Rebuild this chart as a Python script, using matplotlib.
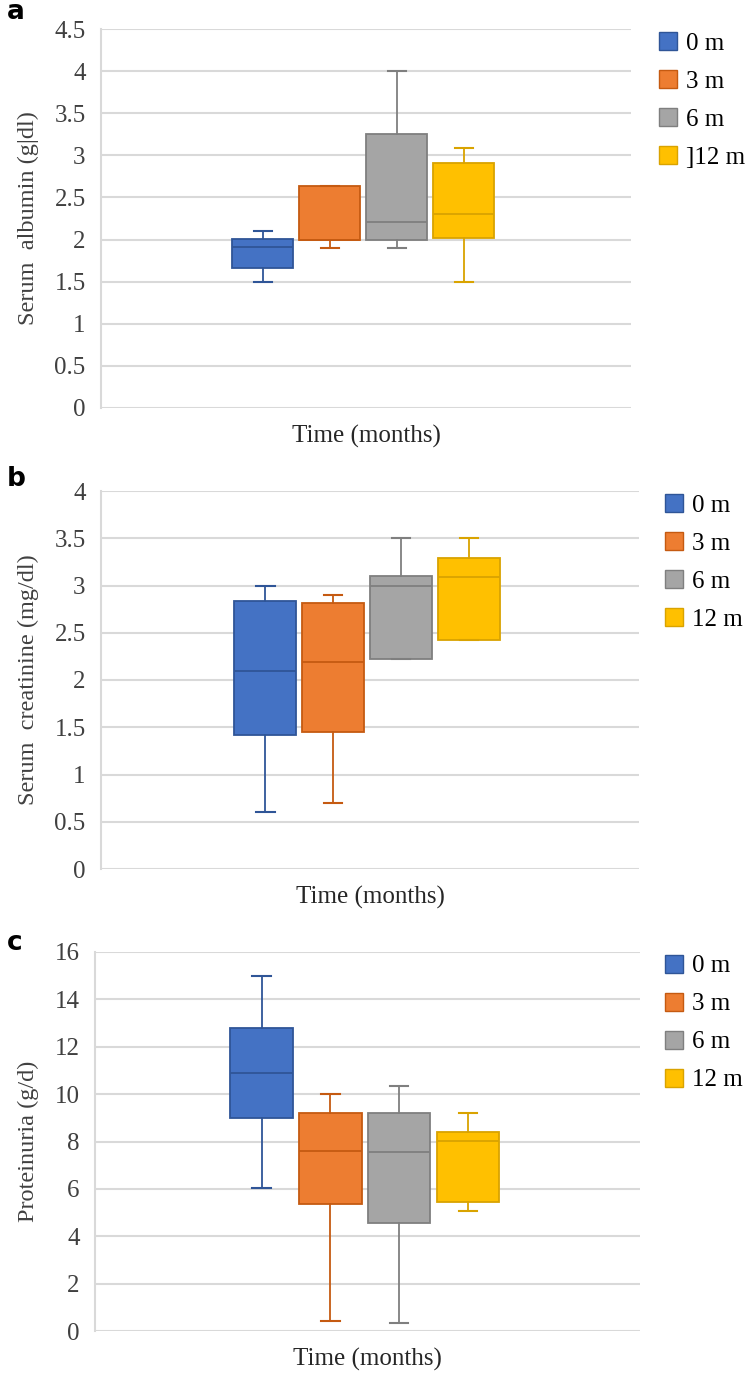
import matplotlib
matplotlib.use("Agg")
import matplotlib.pyplot as plt
from matplotlib.patches import Patch

# groups / legend labels
groups = ["0 m", "3 m", "6 m", "12 m"]
legend_a = ["0 m", "3 m", "6 m", "]12 m"]

# box statistics: (whislo, q1, med, q3, whishi)
alb_lo = [1.5, 1.9, 1.9, 1.5]
alb_q1 = [1.66, 2.0, 2.0, 2.02]
alb_med = [1.91, 2.0, 2.21, 2.30]
alb_q3 = [2.01, 2.64, 3.25, 2.91]
alb_hi = [2.10, 2.64, 4.0, 3.09]

cre_lo = [0.60, 0.70, 2.22, 2.42]
cre_q1 = [1.42, 1.45, 2.22, 2.42]
cre_med = [2.09, 2.19, 2.99, 3.09]
cre_q3 = [2.84, 2.81, 3.10, 3.29]
cre_hi = [3.0, 2.90, 3.5, 3.5]

pro_lo = [6.04, 0.41, 0.35, 5.05]
pro_q1 = [9.0, 5.38, 4.56, 5.45]
pro_med = [10.89, 7.61, 7.54, 8.02]
pro_q3 = [12.79, 9.21, 9.21, 8.40]
pro_hi = [15.0, 10.0, 10.35, 9.21]

alb_ticks = [0, 0.5, 1, 1.5, 2, 2.5, 3, 3.5, 4, 4.5]
cre_ticks = [0, 0.5, 1, 1.5, 2, 2.5, 3, 3.5, 4]
pro_ticks = [0, 2, 4, 6, 8, 10, 12, 14, 16]

fill = ["#4472C4", "#ED7D31", "#A5A5A5", "#FFC000"]
edge = ["#2F5597", "#C55A11", "#7F7F7F", "#D9A300"]

serif = "Liberation Serif"
W, H = 747, 1373
fig = plt.figure(figsize=(W / 100, H / 100), dpi=100)


def px_axes(left, right, top, bottom):
    return fig.add_axes([left / W, 1 - bottom / H, (right - left) / W, (bottom - top) / H])


def panel(ax, lo, q1, med, q3, hi, ticks, ylabel, labels, letter, letter_y, ylab_px, leg_px):
    stats = []
    for i in range(len(groups)):
        stats.append(dict(whislo=lo[i], q1=q1[i], med=med[i], q3=q3[i], whishi=hi[i], fliers=[]))
    for i, s in enumerate(stats):
        ax.bxp([s], positions=[i + 1], widths=0.91, capwidths=0.27, patch_artist=True,
               showfliers=False,
               boxprops=dict(facecolor=fill[i], edgecolor=edge[i], linewidth=1.3),
               medianprops=dict(color=edge[i], linewidth=1.3),
               whiskerprops=dict(color=edge[i], linewidth=1.3),
               capprops=dict(color=edge[i], linewidth=1.5), zorder=3)
    ax.set_xlim(-1.42, 6.5)
    ax.set_ylim(ticks[0], ticks[-1])
    ax.set_yticks(ticks)
    ax.set_yticklabels([f"{t:g}" for t in ticks], family=serif, fontsize=18, color="#404040")
    ax.set_xticks([])
    ax.tick_params(axis="y", length=0, pad=11)
    ax.grid(axis="y", color="#D9D9D9", linewidth=1.5, zorder=0)
    ax.set_axisbelow(True)
    for sp in ["top", "right", "bottom"]:
        ax.spines[sp].set_visible(False)
    ax.spines["left"].set_color("#D9D9D9")
    ax.spines["left"].set_linewidth(1.5)
    ax.set_ylabel(ylabel, family=serif, fontsize=17.5, color="#404040")
    bb = ax.get_position()
    ax.yaxis.set_label_coords((ylab_px / W - bb.x0) / bb.width, 0.5)
    ax.text(0.5, -28 / (bb.height * H), "Time (months)", transform=ax.transAxes,
            ha="center", va="center", family=serif, fontsize=18, color="#262626")
    fig.text(7 / W, 1 - letter_y / H, letter,
             fontsize=19, fontweight="bold", family="DejaVu Sans", va="center", ha="left")
    handles = [Patch(facecolor=fill[i], edgecolor=edge[i], linewidth=1) for i in range(len(groups))]
    fig.legend(handles, labels, loc="upper left",
               bbox_to_anchor=(leg_px[0] / W, 1 - leg_px[1] / H),
               frameon=False, prop=dict(family=serif, size=18),
               handlelength=0.7, handleheight=0.7, handletextpad=0.4,
               labelspacing=0.62, borderpad=0, borderaxespad=0)


ax_a = px_axes(101, 631, 29, 408)
panel(ax_a, alb_lo, alb_q1, alb_med, alb_q3, alb_hi, alb_ticks,
      "Serum  albumin (g|dl)", legend_a, "a", 12, 39, (659, 32))

ax_b = px_axes(101, 639, 491, 869)
panel(ax_b, cre_lo, cre_q1, cre_med, cre_q3, cre_hi, cre_ticks,
      "Serum  creatinine (mg/dl)", groups, "b", 479, 39, (665, 494))

ax_c = px_axes(95, 640, 952, 1331)
panel(ax_c, pro_lo, pro_q1, pro_med, pro_q3, pro_hi, pro_ticks,
      "Proteinuria (g/d)", groups, "c", 943, 39, (665, 955))

fig.savefig("out.png", dpi=100)
